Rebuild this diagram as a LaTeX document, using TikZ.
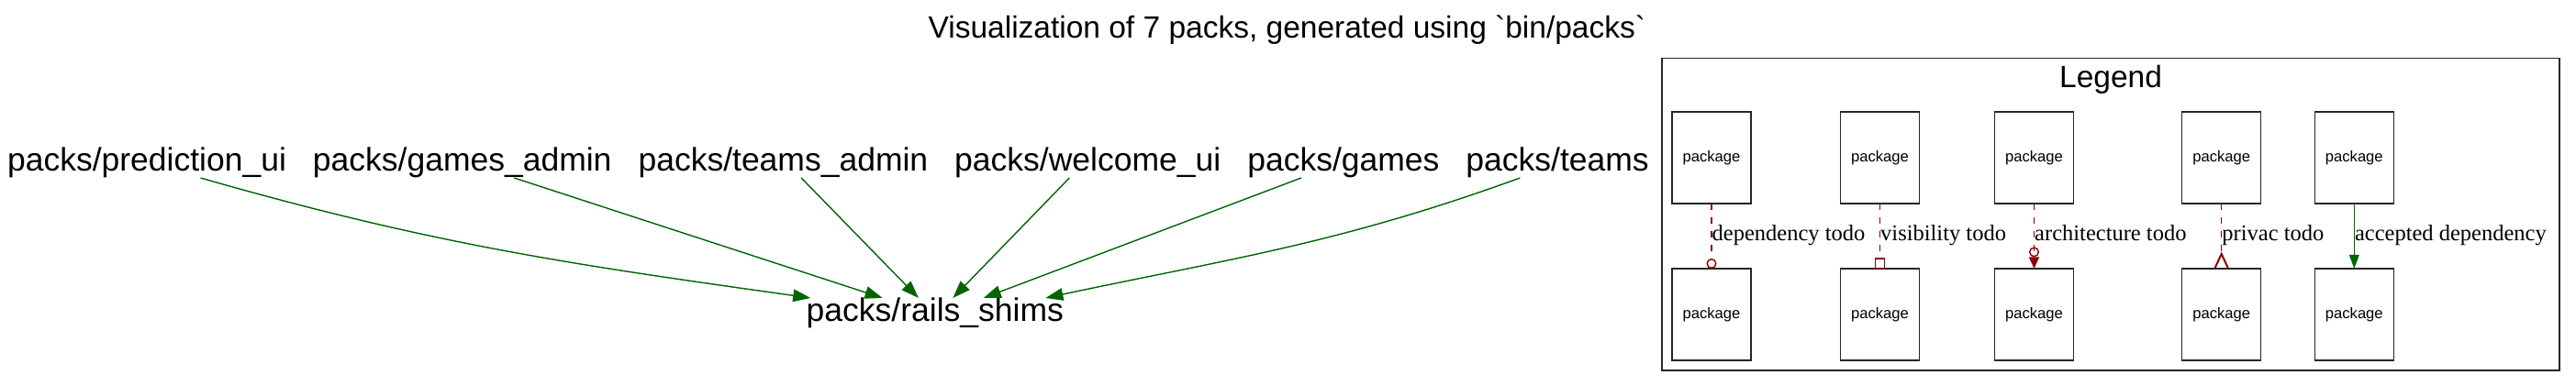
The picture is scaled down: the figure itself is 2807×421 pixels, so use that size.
\documentclass[tikz,border=0pt]{standalone}
\usepackage{fontspec}
\setmainfont{Liberation Serif}
\setsansfont{Liberation Sans}
\usetikzlibrary{positioning, arrows.meta}
\definecolor{depgreen}{RGB}{0, 100, 0}
\definecolor{todored}{RGB}{139, 0, 0}

\begin{document}
\begin{tikzpicture} [
      x=0.5pt, y=0.5pt,
      font=\sffamily,
      node distance=35.5pt and 14.5pt,
      pack/.style={inner sep=0pt, outer sep=0pt, font=\sffamily\fontsize{17.75}{20}\selectfont},
      heading/.style={inner sep=0pt, font=\sffamily\fontsize{16.75}{20}\selectfont},
      pkgbox/.style={rectangle, draw=black!85, line width=0.7pt, outer sep=0pt, inner sep=0pt, minimum width=43pt, minimum height=50pt, font=\sffamily\fontsize{8.3}{10}\selectfont},
      dep/.style={-{Triangle[length=9.5pt, width=6.8pt]}, draw=depgreen, line width=0.7pt},
      okdep/.style={-{Triangle[length=7.5pt, width=5.3pt]}, draw=depgreen, line width=0.7pt},
      todo/.style={draw=todored, line width=0.7pt, dash pattern=on 3.5pt off 4pt},
      note/.style={midway, anchor=west, inner sep=0pt, font=\rmfamily\fontsize{12.25}{14}\selectfont, text height=.68em, text depth=.22em}
  ]
  \useasboundingbox (0,0) rectangle (2807,421);

  \node[heading, anchor=base] (title) at (1402.4,379.3) {Visualization of 7 packs, generated using \textasciigrave bin/packs\textasciigrave};

  % packs
  \node[pack, anchor=base] (pred) at (160,234.3) {packs/prediction\_ui};
  \node[pack, base right=of pred] (gadmin) {packs/games\_admin};
  \node[pack, base right=of gadmin] (tadmin) {packs/teams\_admin};
  \node[pack, base right=of tadmin] (welcome) {packs/welcome\_ui};
  \node[pack, base right=of welcome] (games) {packs/games};
  \node[pack, base right=of games] (teams) {packs/teams};
  \node[pack, anchor=base] (shims) at (1018.8,70.3) {packs/rails\_shims};

  \draw[dep] ([xshift=29.3pt]pred.south) to[out=-16, in=172] ([xshift=-67.8pt]shims.north);
  \draw[dep] ([xshift=28.3pt]gadmin.south) -- ([xshift=-28.6pt]shims.north);
  \draw[dep] ([xshift=9.9pt]tadmin.south) -- ([xshift=-9pt]shims.north);
  \draw[dep] ([xshift=-10pt]welcome.south) -- ([xshift=9.8pt]shims.north);
  \draw[dep] ([xshift=-23pt]games.south) -- ([xshift=26.5pt]shims.north);
  \draw[dep] ([xshift=-20.4pt]teams.south) to[out=200, in=12] ([xshift=60.3pt]shims.north);

  % legend
  \draw[black!85, line width=0.7pt] (1811,17) rectangle (2789,357.7);
  \node[heading, anchor=base] (legend) at (2300,325) {Legend};

  \node[pkgbox] (deptop) at (1865,249) {package};
  \node[pkgbox, below=of deptop] (depbot) {package};
  \node[pkgbox] (vistop) at (2048.5,249) {package};
  \node[pkgbox, below=of vistop] (visbot) {package};
  \node[pkgbox] (archtop) at (2216.5,249) {package};
  \node[pkgbox, below=of archtop] (archbot) {package};
  \node[pkgbox] (privtop) at (2420.7,249) {package};
  \node[pkgbox, below=of privtop] (privbot) {package};
  \node[pkgbox] (oktop) at (2565.3,249) {package};
  \node[pkgbox, below=of oktop] (okbot) {package};

  \draw[todo, -{Circle[open, length=5.5pt]}] (deptop) -- node[note] {dependency todo} (depbot);
  \draw[todo, -{Square[open, length=5.8pt]}] (vistop) -- node[note] {visibility todo} (visbot);
  \draw[todo, -{Circle[open, length=5.5pt] Triangle[length=6.3pt, width=5.5pt]}] (archtop) -- node[note] {architecture todo} (archbot);
  \draw[todo, -{Straight Barb[reversed, length=7.5pt, width=7pt, line width=1pt]}] (privtop) -- node[note] {privac todo} (privbot);
  \draw[okdep] (oktop) -- node[note] {accepted dependency} (okbot);
  \end{tikzpicture}
\end{document}
